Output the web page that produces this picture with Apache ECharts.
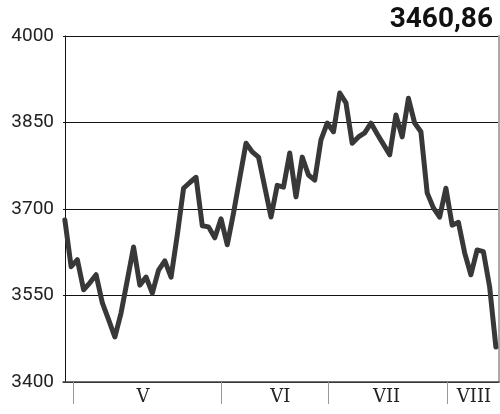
<!DOCTYPE html>
<html>
<head>
<meta charset="utf-8">
<script src="https://cdn.jsdelivr.net/npm/echarts@6/dist/echarts.min.js"></script>
<style>html,body{margin:0;padding:0;background:#fff}#c{width:500px;height:414px}</style>
</head>
<body>
<div id="c"></div>
<script>
var values = [3681,3600,3612,3560,3572,3586,3537,3508,3478,3520,
  3577,3634,3568,3582,3554,3594,3610,3582,3655,3736,
  3746,3755,3671,3669,3650,3683,3638,3693,3754,3814,
  3799,3790,3738,3686,3741,3738,3797,3721,3790,3759,
  3750,3820,3849,3834,3901,3884,3814,3825,3832,3849,
  3830,3812,3794,3863,3825,3892,3849,3834,3728,3702,
  3686,3736,3672,3677,3624,3586,3629,3626,3565,3460.86];
var monthTicks = [1.3, 25.1, 42.2, 61.2];
var monthLabelPos = [12.5, 34.5, 51.5, 65.5];
var monthLabels = ['V', 'VI', 'VII', 'VIII'];
var yTicks = [3400, 3550, 3700, 3850, 4000];
var lastValueText = '3460,86';

var chart = echarts.init(document.getElementById('c'));
chart.setOption({
  animation: false,
  title: {
    text: lastValueText, right: 2, top: 1,
    textStyle: {fontFamily: 'Roboto', fontWeight: 'bold', fontSize: 28, color: '#111'}
  },
  grid: {left: 63, right: 1, top: 36, bottom: 32, containLabel: false},
  xAxis: {
    type: 'value', min: -0.3, max: 69.5,
    axisLine: {show: true, lineStyle: {color: '#444', width: 1.5}},
    axisTick: {show: true, customValues: monthTicks, length: 22, lineStyle: {color: '#999', width: 1}},
    axisLabel: {
      show: true, customValues: monthLabelPos, margin: 6,
      fontFamily: 'DejaVu Serif', fontSize: 18, color: '#222',
      formatter: function (v) {
        for (var i = 0; i < monthLabelPos.length; i++) {
          if (Math.abs(monthLabelPos[i] - v) < 0.01) return monthLabels[i];
        }
        return '';
      }
    },
    splitLine: {show: false}
  },
  yAxis: [{
    type: 'value', min: yTicks[0], max: yTicks[yTicks.length - 1], interval: 150,
    axisLine: {show: true, lineStyle: {color: '#111', width: 1}},
    axisTick: {show: false},
    axisLabel: {fontFamily: 'Roboto', fontSize: 19, color: '#222', margin: 9,
      formatter: function (v) { return String(v); }},
    splitLine: {show: true, lineStyle: {color: '#111', width: 1}}
  }, {
    type: 'value', position: 'right', min: yTicks[0], max: yTicks[yTicks.length - 1],
    axisLine: {show: true, lineStyle: {color: '#aaa', width: 2}},
    axisTick: {show: false}, axisLabel: {show: false}, splitLine: {show: false}
  }],
  series: [{
    type: 'line',
    data: values.map(function (v, i) { return [i, v]; }),
    showSymbol: false,
    lineStyle: {color: '#383838', width: 5, join: 'round', cap: 'round'}
  }]
});
</script>
</body>
</html>
